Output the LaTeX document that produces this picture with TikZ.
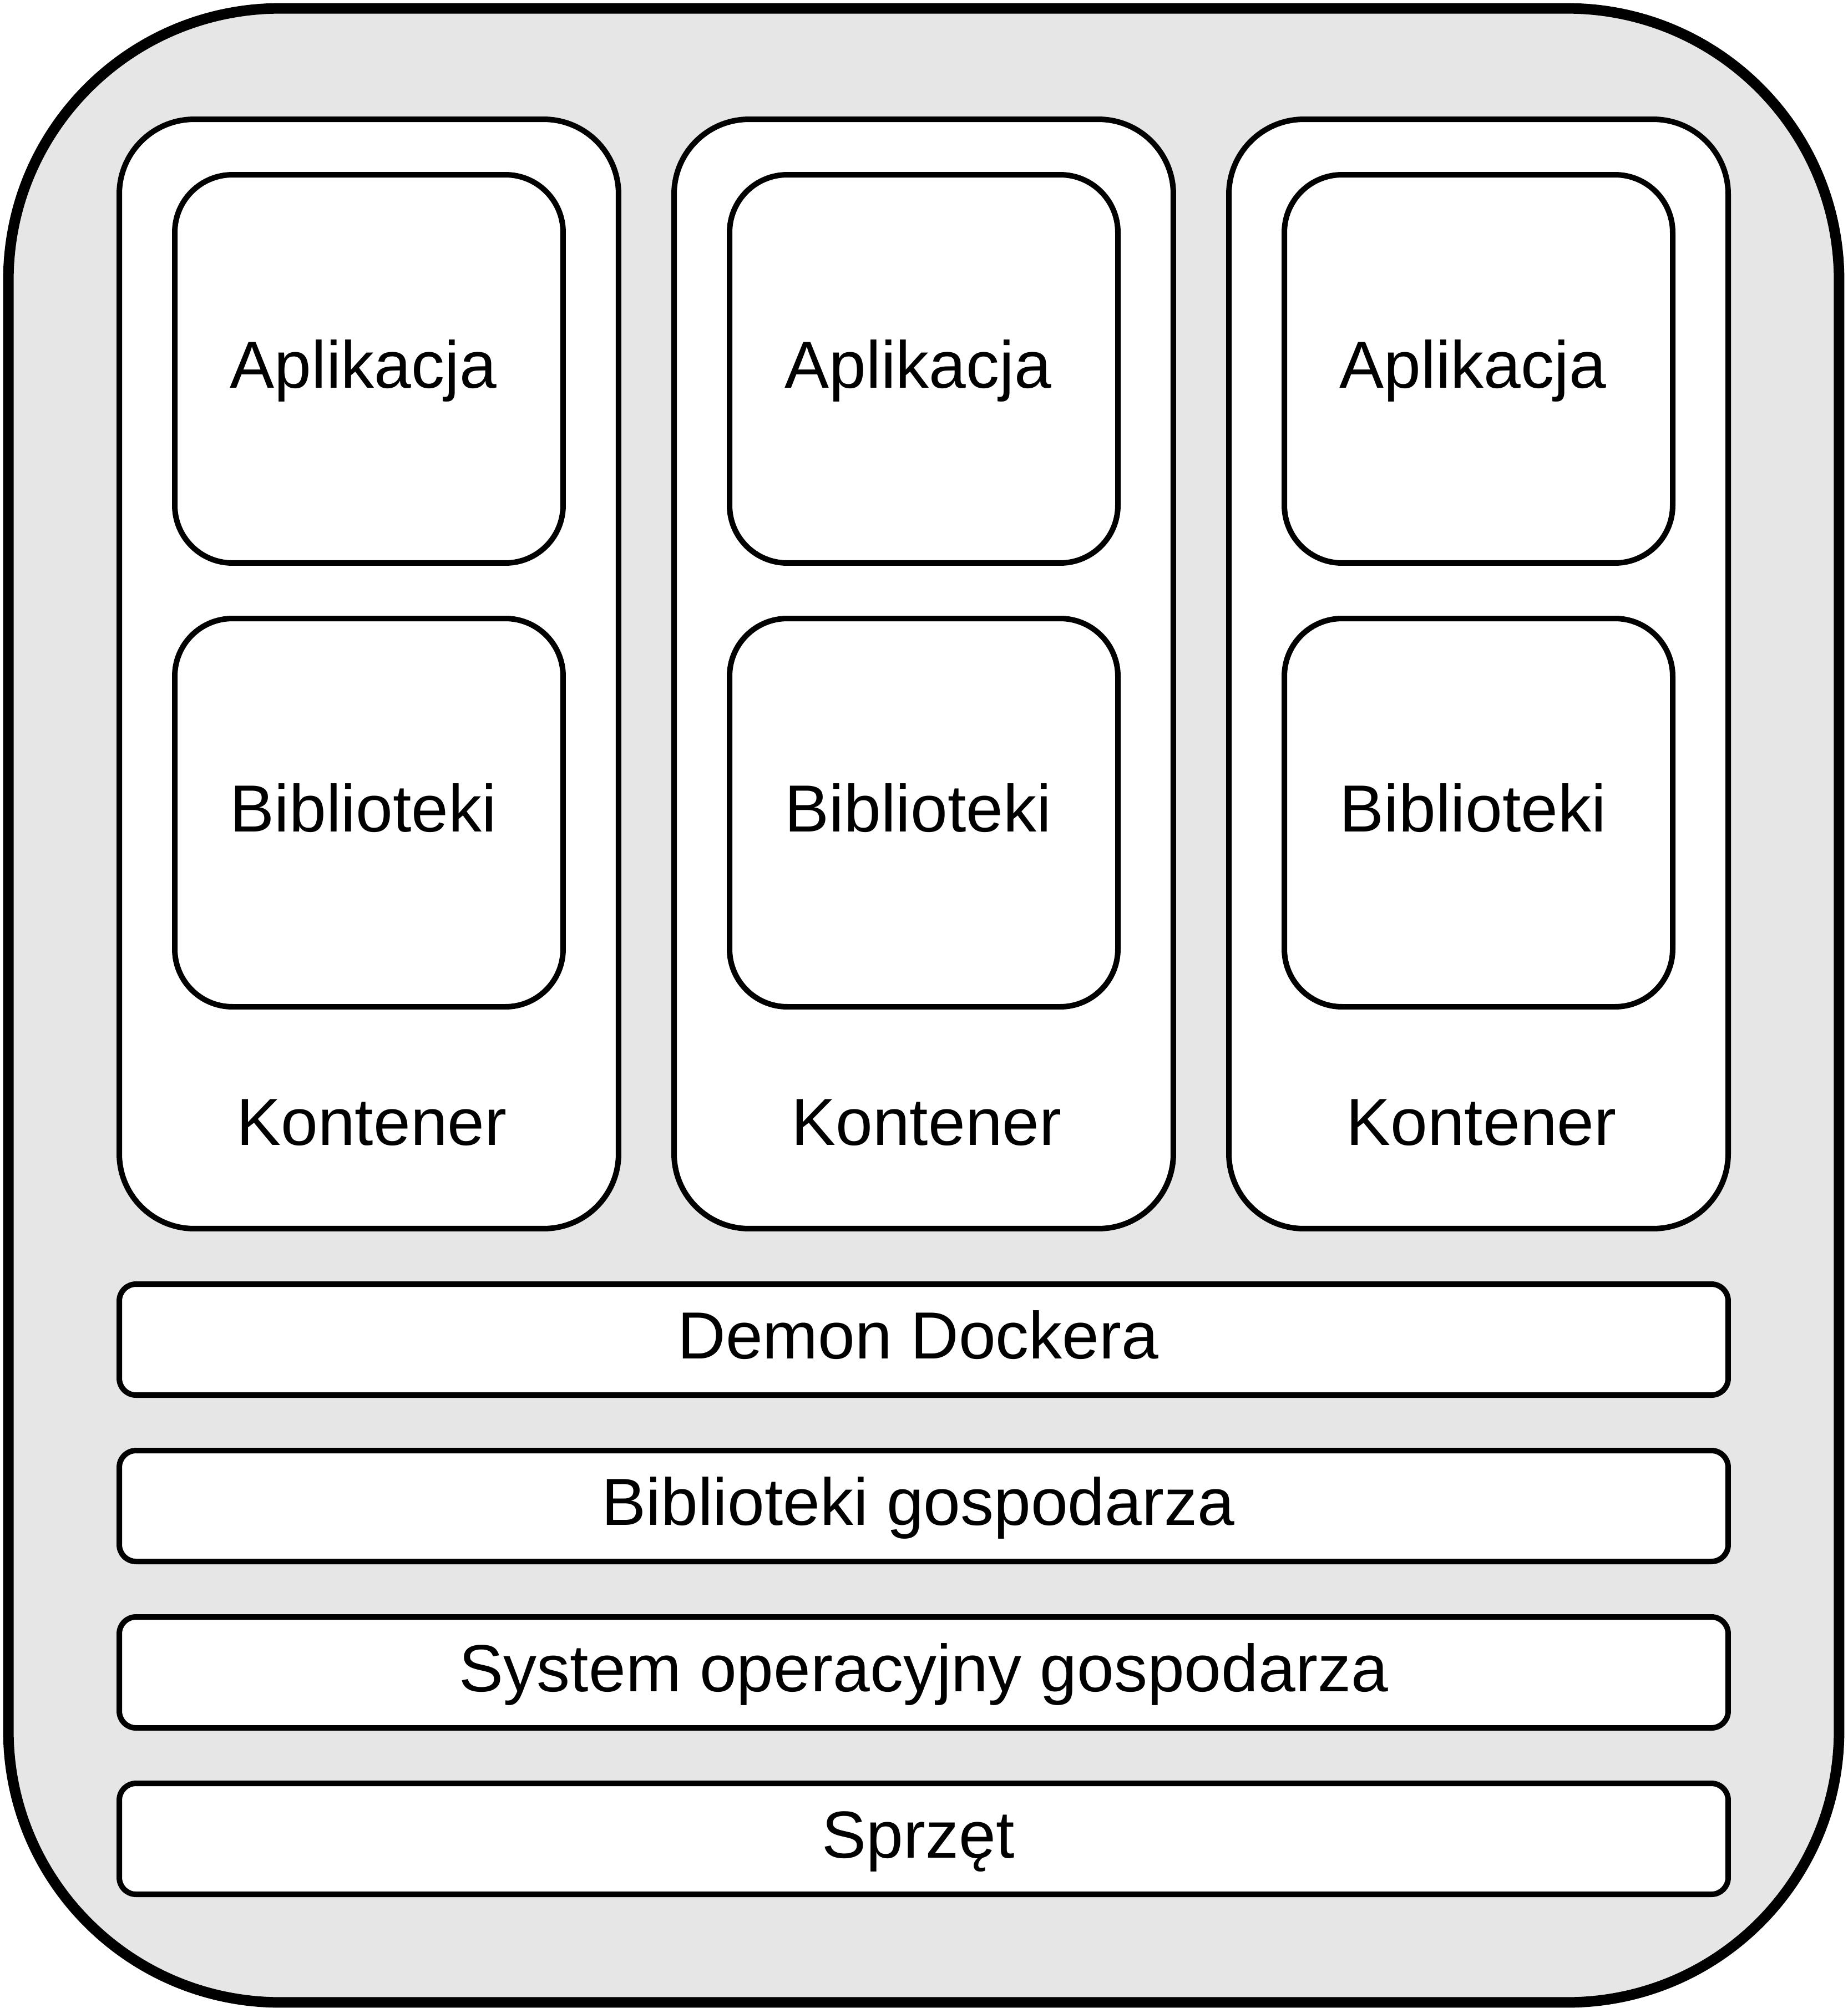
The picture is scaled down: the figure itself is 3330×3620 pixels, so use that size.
\documentclass[tikz,border=0pt]{standalone}
\usepackage{fontspec}
\setmainfont{Liberation Sans}
\definecolor{bggray}{RGB}{230,230,230}
\begin{document}
\begin{tikzpicture}[x=0.1pt,y=-0.1pt,
  txt/.style={font=\fontsize{12pt}{14pt}\selectfont},
  leftnudge/.style={execute at begin node=\kern-2pt},
  hostbox/.style={draw=black, line width=1.9pt, fill=bggray, rounded corners=49pt,
    minimum width=330pt, minimum height=359.5pt, inner sep=0pt},
  contbox/.style={draw=black, line width=1pt, fill=white, rounded corners=13.5pt,
    minimum width=90pt, minimum height=200pt, inner sep=0pt},
  innerbox/.style={txt, leftnudge, draw=black, line width=1pt, fill=white, rounded corners=10.4pt,
    minimum width=70pt, minimum height=70pt, inner sep=0pt, text height=8.6pt, text depth=1.8pt},
  barbox/.style={txt, draw=black, line width=1pt, fill=white, rounded corners=3pt,
    minimum width=290pt, minimum height=20pt, inner sep=0pt, text height=8.6pt, text depth=1.8pt},
  contlbl/.style={txt, anchor=base, inner sep=0pt}
]
\useasboundingbox (0,0) rectangle (3330,3620);
\node[hostbox] (host) at (1665,1812.5) {};

\foreach \i/\cx in {1/665, 2/1665, 3/2665} {
  \node[contbox] (c\i) at (\cx,1215) {};
  \node[innerbox] (app\i) at (\cx,665) {Aplikacja};
  \node[innerbox] (lib\i) at (\cx,1465) {Biblioteki};
  \node[contlbl] (k\i) at ([xshift=0.5pt,yshift=15.5pt]c\i.south) {Kontener};
}

\node[barbox, leftnudge] (daemon) at (1665,2415) {Demon Dockera};
\node[barbox, leftnudge] (hostlib) at (1665,2715) {Biblioteki gospodarza};
\node[barbox] (hostos) at (1665,3015) {System operacyjny gospodarza};
\node[barbox, leftnudge] (hw) at (1665,3315) {Sprzęt};
\end{tikzpicture}
\end{document}
